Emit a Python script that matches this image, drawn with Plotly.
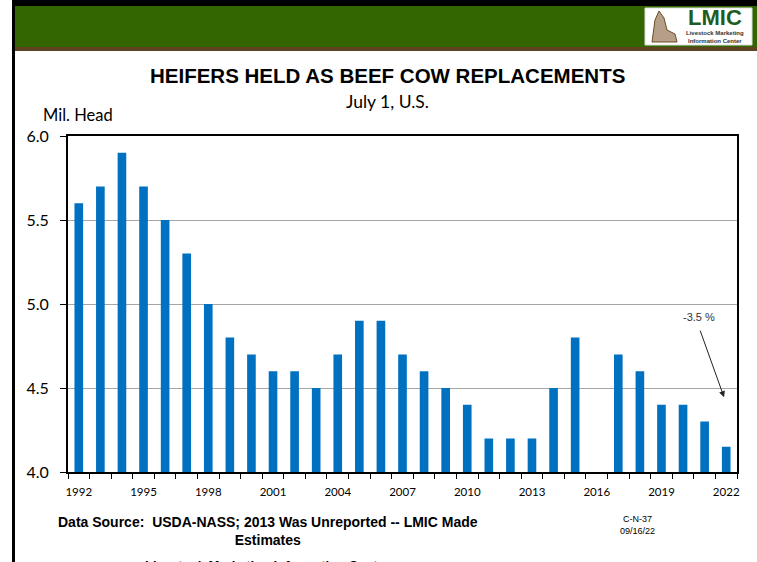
import plotly.graph_objects as go

years = list(range(1992, 2023))
heifers = [5.6, 5.7, 5.9, 5.7, 5.5, 5.3, 5.0, 4.8, 4.7, 4.6, 4.6, 4.5, 4.7, 4.9, 4.9, 4.7,
           4.6, 4.5, 4.4, 4.2, 4.2, 4.2, 4.5, 4.8, None, 4.7, 4.6, 4.4, 4.4, 4.3, 4.15]
label_years = [1992, 1995, 1998, 2001, 2004, 2007, 2010, 2013, 2016, 2019, 2022]
y_ticks = [4.0, 4.5, 5.0, 5.5, 6.0]

W, H = 757, 562
L, R, T, B = 68, 20, 136, 90
PW, PH = W - L - R, H - T - B


def px(x):
    return (x - L) / PW


def py(y):
    return (H - B - y) / PH


fig = go.Figure()
fig.add_trace(go.Bar(x=years, y=heifers, width=0.4, marker=dict(color="#0070C0", line=dict(width=0)),
                     hoverinfo="x+y"))

shapes = [
    dict(type="rect", xref="paper", yref="paper", x0=px(12), x1=px(757), y0=py(0), y1=py(6),
         fillcolor="black", line=dict(width=0), layer="above"),
    dict(type="rect", xref="paper", yref="paper", x0=px(12), x1=px(15), y0=py(0), y1=py(562),
         fillcolor="black", line=dict(width=0), layer="above"),
    dict(type="rect", xref="paper", yref="paper", x0=px(15), x1=px(757), y0=py(6), y1=py(47),
         fillcolor="#336600", line=dict(width=0), layer="above"),
    dict(type="rect", xref="paper", yref="paper", x0=px(15), x1=px(757), y0=py(47), y1=py(51),
         fillcolor="#5E4322", line=dict(width=0), layer="above"),
    dict(type="rect", xref="paper", yref="paper", x0=px(645), x1=px(752), y0=py(8), y1=py(45),
         fillcolor="white", line=dict(color="#DDDDDD", width=1), layer="above"),
    dict(type="path", xref="paper", yref="paper", layer="above",
         path=f"M {px(652)} {py(42)} L {px(655)} {py(20)} L {px(659)} {py(11)} L {px(664)} {py(18)} "
              f"L {px(667)} {py(30)} L {px(675)} {py(34)} L {px(677)} {py(42)} Z",
         fillcolor="rgba(120,80,40,0.55)", line=dict(color="#6B4A25", width=1)),
]


def txt(text, x, y, size, family="Liberation Sans, Arial", color="black", **kw):
    return dict(text=text, xref="paper", yref="paper", x=px(x), y=py(y), showarrow=False,
                xanchor="center", yanchor="middle", align="center",
                font=dict(family=family, size=size, color=color), **kw)


annotations = [
    txt("<b>HEIFERS HELD AS BEEF COW REPLACEMENTS</b>", 387, 75, 20.5),
    txt("July 1, U.S.", 387, 102, 17.5, family="Lato"),
    txt("Mil. Head", 78, 115, 16.5, family="Lato"),
    txt("<b>Data Source:  USDA-NASS; 2013 Was Unreported -- LMIC Made<br>Estimates</b>", 268, 531, 14),
    txt("C-N-37<br>09/16/22", 637, 525, 9),
    txt("<b>Livestock Marketing Information Center</b>", 267, 565, 13),
    txt("<b>LMIC</b>", 715, 18, 22, color="#1F5C1F"),
    txt("<b>Livestock Marketing<br>Information Center</b>", 715, 37, 6,
        family="Liberation Sans Narrow, Liberation Sans", color="#333333"),
    dict(text="-3.5 %", x=2020.75, y=4.92, xref="x", yref="y", showarrow=False,
         font=dict(family="Liberation Sans, Arial", size=11, color="#333333")),
    dict(text="", x=2021.9, y=4.445, ax=2020.77, ay=4.85, xref="x", yref="y", axref="x", ayref="y",
         showarrow=True, arrowhead=2, arrowsize=1.2, arrowwidth=1, arrowcolor="#222222"),
]

fig.update_layout(
    width=W, height=H, margin=dict(l=L, r=R, t=T, b=B),
    paper_bgcolor="white", plot_bgcolor="white", showlegend=False,
    shapes=shapes, annotations=annotations,
    xaxis=dict(range=[1991.5, 2022.5], tickmode="array", tickvals=label_years,
               ticktext=[str(y) for y in label_years], ticks="", showgrid=False, zeroline=False,
               showline=True, linecolor="black", linewidth=2, mirror=True, ticklabelstandoff=8,
               tickfont=dict(family="Lato", size=11.5, color="black"),
               minor=dict(tickmode="linear", tick0=1991.5, dtick=1, ticks="outside", ticklen=5,
                          tickcolor="black", tickwidth=1, showgrid=False)),
    yaxis=dict(range=[4.0, 6.0], tickmode="array", tickvals=y_ticks, tickformat=".1f",
               ticks="outside", ticklen=6, tickcolor="black", showgrid=True, gridcolor="#A6A6A6",
               gridwidth=1, zeroline=False, showline=True, linecolor="black", linewidth=2, mirror=True,
               ticklabelstandoff=8, tickfont=dict(family="Lato", size=16, color="black")),
)

fig.write_html("out.html")
